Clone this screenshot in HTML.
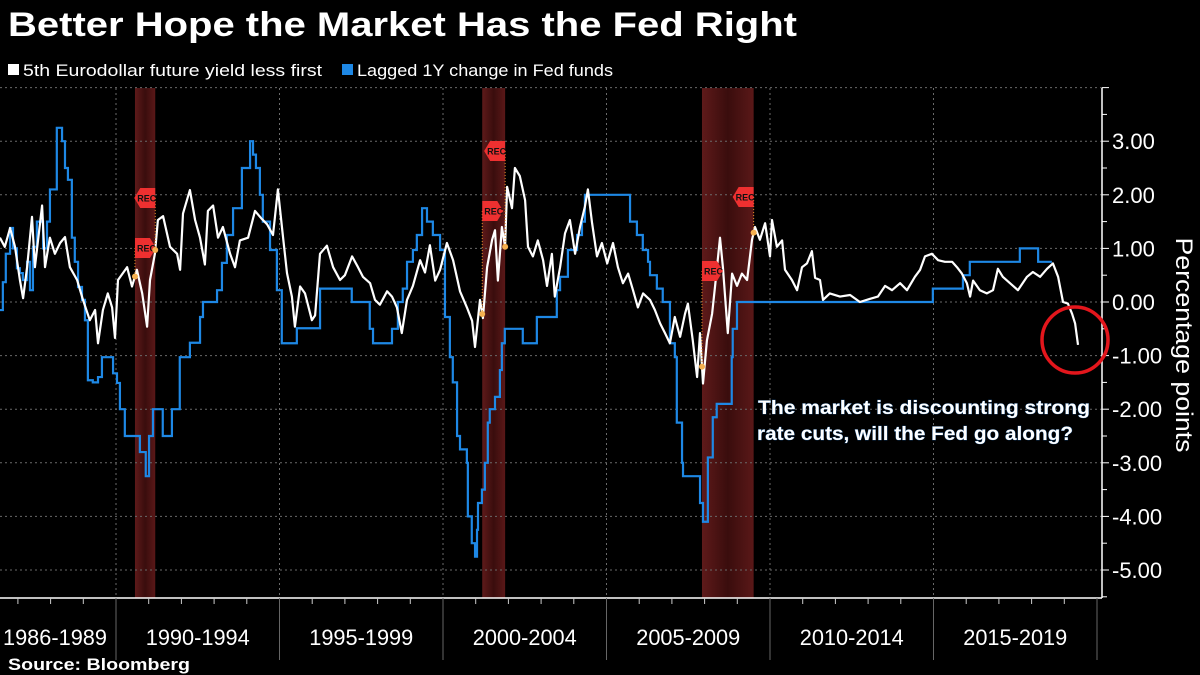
<!DOCTYPE html>
<html><head><meta charset="utf-8">
<style>
html,body{margin:0;padding:0;background:#000;}
svg{display:block;font-family:"Liberation Sans",sans-serif;}
</style></head>
<body>
<svg id="chart" width="1200" height="675" viewBox="0 0 1200 675" xmlns="http://www.w3.org/2000/svg">
<defs>
<linearGradient id="recg" x1="0" x2="1" y1="0" y2="0">
<stop offset="0" stop-color="#5e1a1a"/><stop offset="0.5" stop-color="#3a0d0d"/><stop offset="1" stop-color="#5a1818"/>
</linearGradient>
</defs>
<rect width="1200" height="675" fill="#000"/>
<text x="8" y="36" fill="#fff" font-size="34" font-weight="bold" textLength="789" lengthAdjust="spacingAndGlyphs">Better Hope the Market Has the Fed Right</text>
<g>
<rect x="8" y="64" width="11" height="11" fill="#fff"/>
<text x="23" y="76" fill="#fff" font-size="17" textLength="299" lengthAdjust="spacingAndGlyphs">5th Eurodollar future yield less first</text>
<rect x="342" y="64" width="11" height="11" fill="#1e88e5"/>
<text x="357" y="76" fill="#fff" font-size="17" textLength="256" lengthAdjust="spacingAndGlyphs">Lagged 1Y change in Fed funds</text>
</g>
<g id="rec"></g>
<g id="grid"></g>
<g id="axes"></g>
<g id="series"></g>
<g id="flags"></g>
<circle cx="1075" cy="340" r="33" fill="none" stroke="#e3161c" stroke-width="3.5"/>
<g font-size="19" font-weight="bold" fill="#fff" stroke="#1e5fa0" stroke-width="0.6" paint-order="stroke">
<text x="758" y="414" textLength="332" lengthAdjust="spacingAndGlyphs">The market is discounting strong</text>
<text x="757" y="440" textLength="316" lengthAdjust="spacingAndGlyphs">rate cuts, will the Fed go along?</text>
</g>
<text transform="translate(1176,345) rotate(90)" text-anchor="middle" fill="#fff" font-size="24" textLength="215" lengthAdjust="spacingAndGlyphs">Percentage points</text>
<text x="8" y="670" fill="#fff" font-size="17" font-weight="bold" textLength="182" lengthAdjust="spacingAndGlyphs">Source: Bloomberg</text>
</svg>
<script>
const whiteYears=[1986.45,1986.60,1986.76,1986.91,1987.06,1987.16,1987.28,1987.43,1987.52,1987.74,1987.83,1987.98,1988.13,1988.29,1988.44,1988.59,1988.81,1988.99,1989.20,1989.36,1989.45,1989.60,1989.75,1989.88,1989.97,1990.06,1990.34,1990.49,1990.64,1990.80,1990.95,1991.04,1991.19,1991.28,1991.44,1991.65,1991.87,1991.96,1992.05,1992.26,1992.42,1992.57,1992.72,1992.81,1992.97,1993.12,1993.27,1993.49,1993.64,1993.79,1994.04,1994.25,1994.46,1994.62,1994.80,1994.95,1995.11,1995.23,1995.38,1995.47,1995.63,1995.78,1995.99,1996.09,1996.24,1996.45,1996.64,1996.85,1997.00,1997.22,1997.40,1997.55,1997.77,1997.92,1998.07,1998.29,1998.44,1998.59,1998.74,1998.90,1999.08,1999.30,1999.45,1999.60,1999.76,1999.91,2000.12,2000.31,2000.52,2000.73,2000.89,2000.98,2001.13,2001.22,2001.35,2001.50,2001.59,2001.68,2001.80,2001.90,2001.96,2002.11,2002.20,2002.35,2002.51,2002.60,2002.75,2002.90,2003.06,2003.18,2003.33,2003.42,2003.58,2003.73,2003.88,2004.04,2004.19,2004.34,2004.43,2004.56,2004.71,2004.86,2005.02,2005.20,2005.35,2005.50,2005.66,2005.81,2005.96,2006.12,2006.33,2006.48,2006.64,2006.79,2006.94,2007.09,2007.25,2007.40,2007.49,2007.64,2007.77,2007.86,2007.95,2008.07,2008.23,2008.32,2008.47,2008.56,2008.71,2008.84,2008.99,2009.14,2009.30,2009.45,2009.54,2009.69,2009.85,2010.00,2010.06,2010.21,2010.37,2010.46,2010.67,2010.83,2010.98,2011.13,2011.28,2011.38,2011.53,2011.62,2011.83,2012.14,2012.45,2012.75,2013.06,2013.30,2013.52,2013.73,2013.98,2014.19,2014.43,2014.59,2014.74,2014.95,2015.14,2015.35,2015.57,2015.72,2015.87,2016.02,2016.12,2016.21,2016.42,2016.63,2016.82,2016.97,2017.12,2017.34,2017.58,2017.86,2018.04,2018.26,2018.47,2018.65,2018.81,2018.96,2019.11,2019.24,2019.33,2019.42];
const whiteValues=[1.2,1.03,1.38,1.03,0.41,0.07,0.65,1.59,0.65,1.8,0.65,1.2,0.9,1.1,1.21,0.65,0.41,0.04,-0.34,-0.15,-0.77,-0.15,0.16,-0.1,-0.67,0.41,0.65,0.29,0.6,0.16,-0.46,0.41,0.9,1.53,1.6,1.03,0.9,0.6,1.65,2.09,1.53,1.2,0.7,1.7,1.8,1.2,1.4,0.9,0.65,1.15,1.2,1.7,1.55,1.45,1.25,2.1,1.2,0.54,0.1,-0.46,0.29,0.16,-0.34,-0.25,0.9,1.05,0.65,0.41,0.5,0.85,0.65,0.47,0.35,0.04,-0.05,0.2,0.1,-0.1,-0.58,0.04,0.3,0.78,0.55,1.06,0.4,0.6,1.1,0.78,0.2,-0.1,-0.35,-0.84,0.04,-0.3,0.65,1.16,1.34,0.4,1.4,1.03,2.15,1.75,2.5,2.35,1.9,1.03,0.85,1.15,0.78,0.3,0.9,0.1,0.65,1.28,1.53,0.9,1.4,1.78,2.1,1.47,0.85,1.1,0.72,1.1,0.65,0.35,0.53,0.22,-0.1,0.16,0.04,-0.15,-0.4,-0.58,-0.77,-0.28,-0.65,-0.22,-0.03,-0.72,-1.4,-0.58,-1.52,-0.72,-0.22,0.3,1.2,0.65,-0.58,0.53,0.3,0.53,0.41,1.16,1.4,1.16,1.47,0.85,1.53,1.03,1.15,0.6,0.41,0.22,0.65,0.72,0.95,0.45,0.41,0.04,0.16,0.1,0.13,0.0,0.06,0.1,0.3,0.22,0.35,0.22,0.47,0.6,0.85,0.9,0.78,0.75,0.75,0.65,0.53,0.35,0.1,0.4,0.22,0.16,0.22,0.62,0.47,0.35,0.22,0.47,0.56,0.47,0.62,0.72,0.47,0.0,-0.03,-0.22,-0.4,-0.8];
const blueYears=[1986.45,1986.54,1986.63,1986.76,1986.85,1986.97,1987.06,1987.15,1987.28,1987.37,1987.46,1987.58,1987.77,1987.89,1987.98,1988.19,1988.35,1988.44,1988.53,1988.65,1988.74,1988.84,1988.96,1989.05,1989.14,1989.29,1989.45,1989.57,1989.91,1990.03,1990.12,1990.27,1990.73,1990.91,1991.01,1991.13,1991.43,1991.71,1991.95,1992.26,1992.57,1992.66,1993.09,1993.24,1993.39,1993.58,1993.85,1994.10,1994.19,1994.28,1994.40,1994.49,1994.71,1994.92,1995.07,1995.53,1996.24,1997.21,1997.76,1997.86,1998.44,1998.62,1998.77,1998.90,1999.08,1999.20,1999.36,1999.51,1999.69,1999.91,2000.06,2000.21,2000.30,2000.43,2000.52,2000.73,2000.76,2000.88,2000.98,2001.04,2001.07,2001.19,2001.28,2001.37,2001.43,2001.59,2001.74,2001.80,2001.89,2002.44,2002.87,2003.48,2003.58,2003.82,2004.10,2004.25,2004.34,2005.72,2005.93,2006.11,2006.27,2006.33,2006.54,2006.72,2006.94,2007.09,2007.15,2007.31,2007.34,2007.86,2007.95,2008.10,2008.25,2008.37,2008.83,2008.86,2008.99,2014.98,2015.90,2016.11,2017.64,2018.20,2018.41];
const blueValues=[-0.15,0.37,0.9,1.38,1.0,0.63,0.54,0.41,0.75,0.22,1.03,1.5,1.0,1.5,2.1,3.25,3.0,2.5,2.28,1.2,0.75,0.28,0.04,-0.34,-1.46,-1.5,-1.4,-1.03,-1.33,-1.51,-2.0,-2.5,-2.8,-3.25,-2.5,-2.0,-2.5,-2.0,-1.03,-0.76,-0.28,0,0.22,0.73,1.25,1.75,2.5,3.0,2.75,2.5,2.0,1.5,0.97,0.22,-0.77,-0.49,0.25,0.0,-0.5,-0.77,-0.5,0,0.25,0.75,0.97,1.25,1.75,1.5,1.25,0.97,-0.28,-1.03,-1.5,-2.5,-2.75,-3.0,-4.0,-4.5,-4.75,-4.25,-3.75,-3.5,-3.0,-2.25,-2.0,-1.77,-1.27,-0.77,-0.5,-0.77,-0.28,0.22,0.47,0.97,1.25,1.5,2.0,1.5,1.25,0.97,0.75,0.5,0.25,0,-0.77,-1.03,-2.25,-3.0,-3.25,-3.75,-4.1,-2.9,-2.15,-1.9,-1.03,-0.5,0,0.25,0.5,0.75,1.0,0.75,0.75];
const recStarts=[1990.58,2001.2,2007.92];
const recEnds=[1991.2,2001.9,2009.5];
const yTicks=[3,2,1,0,-1,-2,-3,-4,-5];
const yTickLabels=["3.00","2.00","1.00","0.00","-1.00","-2.00","-3.00","-4.00","-5.00"];
const periodLabels=["1986-1989","1990-1994","1995-1999","2000-2004","2005-2009","2010-2014","2015-2019"];
const periodBounds=[1986.45,1990,1995,2000,2005,2010,2015,2020];

const NS="http://www.w3.org/2000/svg";
const X=yr=>116+(yr-1990)*32.7;
const Y=v=>302-53.6*v;
const PL=0,PR=1102,PT=88,PB=598;
function mk(tag,attrs,parent){const e=document.createElementNS(NS,tag);for(const k in attrs)e.setAttribute(k,attrs[k]);parent.appendChild(e);return e;}
const rec=document.getElementById('rec'),grid=document.getElementById('grid'),axes=document.getElementById('axes'),series=document.getElementById('series'),flags=document.getElementById('flags');

recStarts.forEach((s,i)=>{
  const r=mk('rect',{x:X(s),y:PT,width:X(recEnds[i])-X(s),height:PB-PT,fill:'url(#recg)'},rec);
  
  
});
// horizontal grid incl. top 4.0
[4].concat(yTicks).forEach(v=>{
  const l=mk('line',{x1:PL,x2:PR,y1:Y(v),y2:Y(v),stroke:'#6a6a6a','stroke-width':1,'stroke-dasharray':'2,3'},grid);
  
  
});
periodBounds.slice(1,7).forEach(b=>{
  const l=mk('line',{x1:X(b),x2:X(b),y1:PT,y2:PB,stroke:'#6a6a6a','stroke-width':1,'stroke-dasharray':'2,3'},grid);
  
  
});
// x axis
const xa=mk('line',{x1:PL,x2:PR,y1:PB,y2:PB,stroke:'#fff','stroke-width':1.5},axes);


for(let yr=1987;yr<=2019;yr++){
  const t=mk('line',{x1:X(yr),x2:X(yr),y1:PB,y2:PB+6,stroke:'#ccc','stroke-width':1},axes);
  
  
}
periodBounds.slice(1).forEach(b=>{
  const l=mk('line',{x1:X(b),x2:X(b),y1:PB,y2:PB+62,stroke:'#666','stroke-width':1},axes);
  
  
});
periodLabels.forEach((lab,i)=>{
  const cx=i===0?55:(X(periodBounds[i])+X(periodBounds[i+1]))/2;
  const t=mk('text',{x:cx,y:645,fill:'#fff','font-size':22,'text-anchor':'middle',textLength:104,lengthAdjust:'spacingAndGlyphs'},axes);
  t.textContent=lab;
  
  
});
// y axis
const ya=mk('line',{x1:PR,x2:PR,y1:PT,y2:PB,stroke:'#fff','stroke-width':1.5},axes);


for(let v=-5.5;v<=4;v+=0.5){
  const t=mk('line',{x1:PR,x2:PR+(Number.isInteger(v)?7:5),y1:Y(v),y2:Y(v),stroke:'#fff','stroke-width':1},axes);
  
  
}
yTicks.forEach((v,i)=>{
  const t=mk('text',{x:1112,y:Y(v)+8,fill:'#fff','font-size':22},axes);
  t.textContent=yTickLabels[i];
  
  
});
// blue step line
let d='';
blueYears.forEach((yr,i)=>{
  if(i===0)d+='M'+X(yr)+','+Y(blueValues[i]);
  else d+='H'+X(yr)+'V'+Y(blueValues[i]);
});
d+='H'+X(2018.62);
const bl=mk('path',{d:d,fill:'none',stroke:'#1e88e5','stroke-width':2.2},series);


// white line
const pts=whiteYears.map((yr,i)=>X(yr).toFixed(1)+','+Y(whiteValues[i]).toFixed(1)).join(' ');
const wl=mk('polyline',{points:pts,fill:'none',stroke:'#fff','stroke-width':2.2,'stroke-linejoin':'round'},series);


// REC flags
function interp(yr){for(let i=1;i<whiteYears.length;i++){if(whiteYears[i]>=yr){const t=(yr-whiteYears[i-1])/(whiteYears[i]-whiteYears[i-1]);return whiteValues[i-1]+t*(whiteValues[i]-whiteValues[i-1]);}}return 0;}
const startFlagY=[248,211,271];
const endFlagY=[198,151,197];
recStarts.forEach((s,i)=>{
  [[s,startFlagY[i],1],[recEnds[i],endFlagY[i],-1]].forEach(([yr,fy,dir])=>{
    const x=X(yr),dy=Y(interp(yr));
    const g=mk('g',{},flags);
    
    
    mk('line',{x1:x,x2:x,y1:fy,y2:dy,stroke:'#e0902a','stroke-width':1,'stroke-dasharray':'1,2'},g);
    mk('circle',{cx:x,cy:dy,r:3,fill:'#f5b050'},g);
    let p;
    if(dir===1)p=`M${x},${fy-10}H${x+15}L${x+21},${fy}L${x+15},${fy+10}H${x}Z`;
    else p=`M${x},${fy-10}H${x-15}L${x-21},${fy}L${x-15},${fy+10}H${x}Z`;
    mk('path',{d:p,fill:'#ee3030'},g);
    const t=mk('text',{x:dir===1?x+2:x-18,y:fy+3.5,fill:'#111','font-size':9,'font-weight':'bold'},g);
    t.textContent='REC';
  });
});
</script>
</body></html>
